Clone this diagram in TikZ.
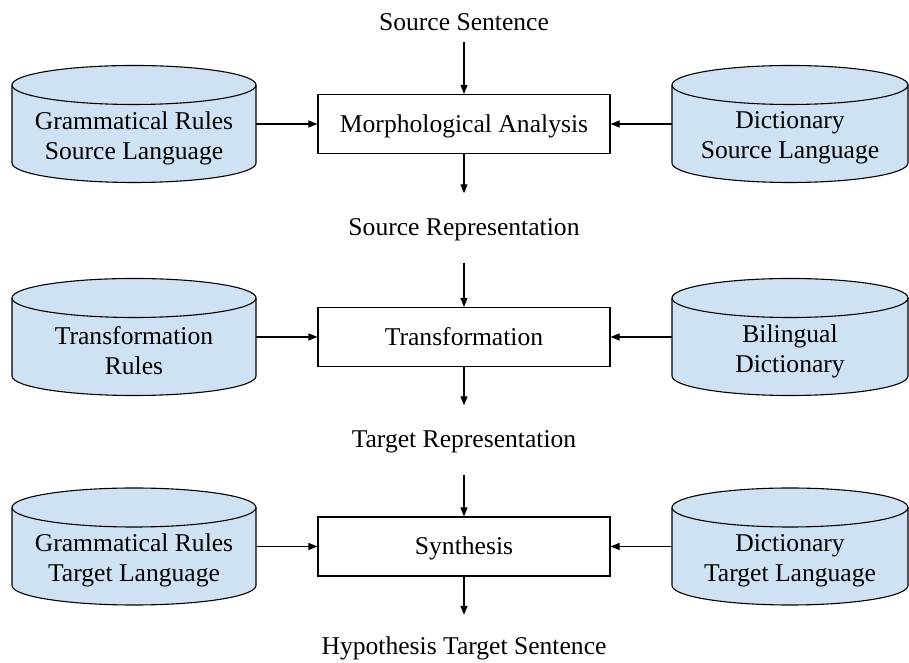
\documentclass[tikz,border=0pt]{standalone}
\usepackage{fontspec}
\setmainfont{Liberation Serif}
\usetikzlibrary{arrows.meta,calc}
\definecolor{dbfill}{HTML}{CFE2F3}

% cylinder: #1 name, #2 centre x, #3 middle y, #4 half width, #5 text
\newcommand\dbcyl[5]{%
  \filldraw[dbline] ({#2-#4},{#3+39}) -- ({#2-#4},{#3-39})
    arc[start angle=180,end angle=360,x radius=#4,y radius=19.5]
    -- ({#2+#4},{#3+39})
    arc[start angle=0,end angle=180,x radius=#4,y radius=19.5] -- cycle;
  \draw[dbline,fill=none] ({#2-#4},{#3+39})
    arc[start angle=180,end angle=360,x radius=#4,y radius=19.5];
  \node[dbtext,minimum width={2*#4}] (#1) at (#2,{#3-14}) {#5};
}

\begin{document}
\begin{tikzpicture}[x=1pt,y=1pt,
  every node/.style={font=\fontsize{25.6}{30}\selectfont},
  dbline/.style={draw=black,fill=dbfill,line width=1.1pt},
  dbtext/.style={align=center,inner xsep=0pt,inner ysep=0pt},
  procbox/.style={draw=black,line width=1.1pt,minimum width=292,minimum height=59,
    inner sep=0pt,text height=23pt,text depth=6pt},
  flowlabel/.style={anchor=base,inner xsep=0pt,inner ysep=22.5pt,text height=20pt,text depth=4pt},
  arr/.style={-{Triangle[length=9pt,width=7pt]},line width=1.1pt}]
\useasboundingbox (0,0) rectangle (909,663);

% processing steps
\node[procbox] (ma) at (464,539) {Morphological Analysis};
\node[procbox] (tf) at (464,326) {Transformation};
\node[procbox] (sy) at (464,116.5) {Synthesis};

% intermediate texts
\node[flowlabel,inner ysep=7pt] (ss) at (464,632) {Source Sentence};
\node[flowlabel] (sr) at (464,427) {Source Representation};
\node[flowlabel] (tr) at (464,215) {Target Representation};
\node[flowlabel,inner ysep=20pt] (hts) at (464,8) {Hypothesis Target Sentence};

% knowledge sources
\dbcyl{gsl}{134}{539}{122}{Grammatical Rules\\Source Language}
\dbcyl{dsl}{790}{539}{118}{Dictionary\\Source Language}
\dbcyl{trr}{134}{326}{122}{Transformation\\Rules}
\dbcyl{bid}{790}{326}{118}{Bilingual\\Dictionary}
\dbcyl{gtl}{134}{116.5}{122}{Grammatical Rules\\Target Language}
\dbcyl{dtl}{790}{116.5}{118}{Dictionary\\Target Language}

% main flow
\draw[arr] (ss) -- (ma);
\draw[arr] (ma) -- (sr);
\draw[arr] (sr) -- (tf);
\draw[arr] (tf) -- (tr);
\draw[arr] (tr) -- (sy);
\draw[arr] (sy) -- (hts);

% resources feeding each step
\draw[arr] (gsl.east |- ma) -- (ma);
\draw[arr] (dsl.west |- ma) -- (ma);
\draw[arr] (trr.east |- tf) -- (tf);
\draw[arr] (bid.west |- tf) -- (tf);
\draw[arr] (gtl.east |- sy) -- (sy);
\draw[arr] (dtl.west |- sy) -- (sy);
\end{tikzpicture}
\end{document}
